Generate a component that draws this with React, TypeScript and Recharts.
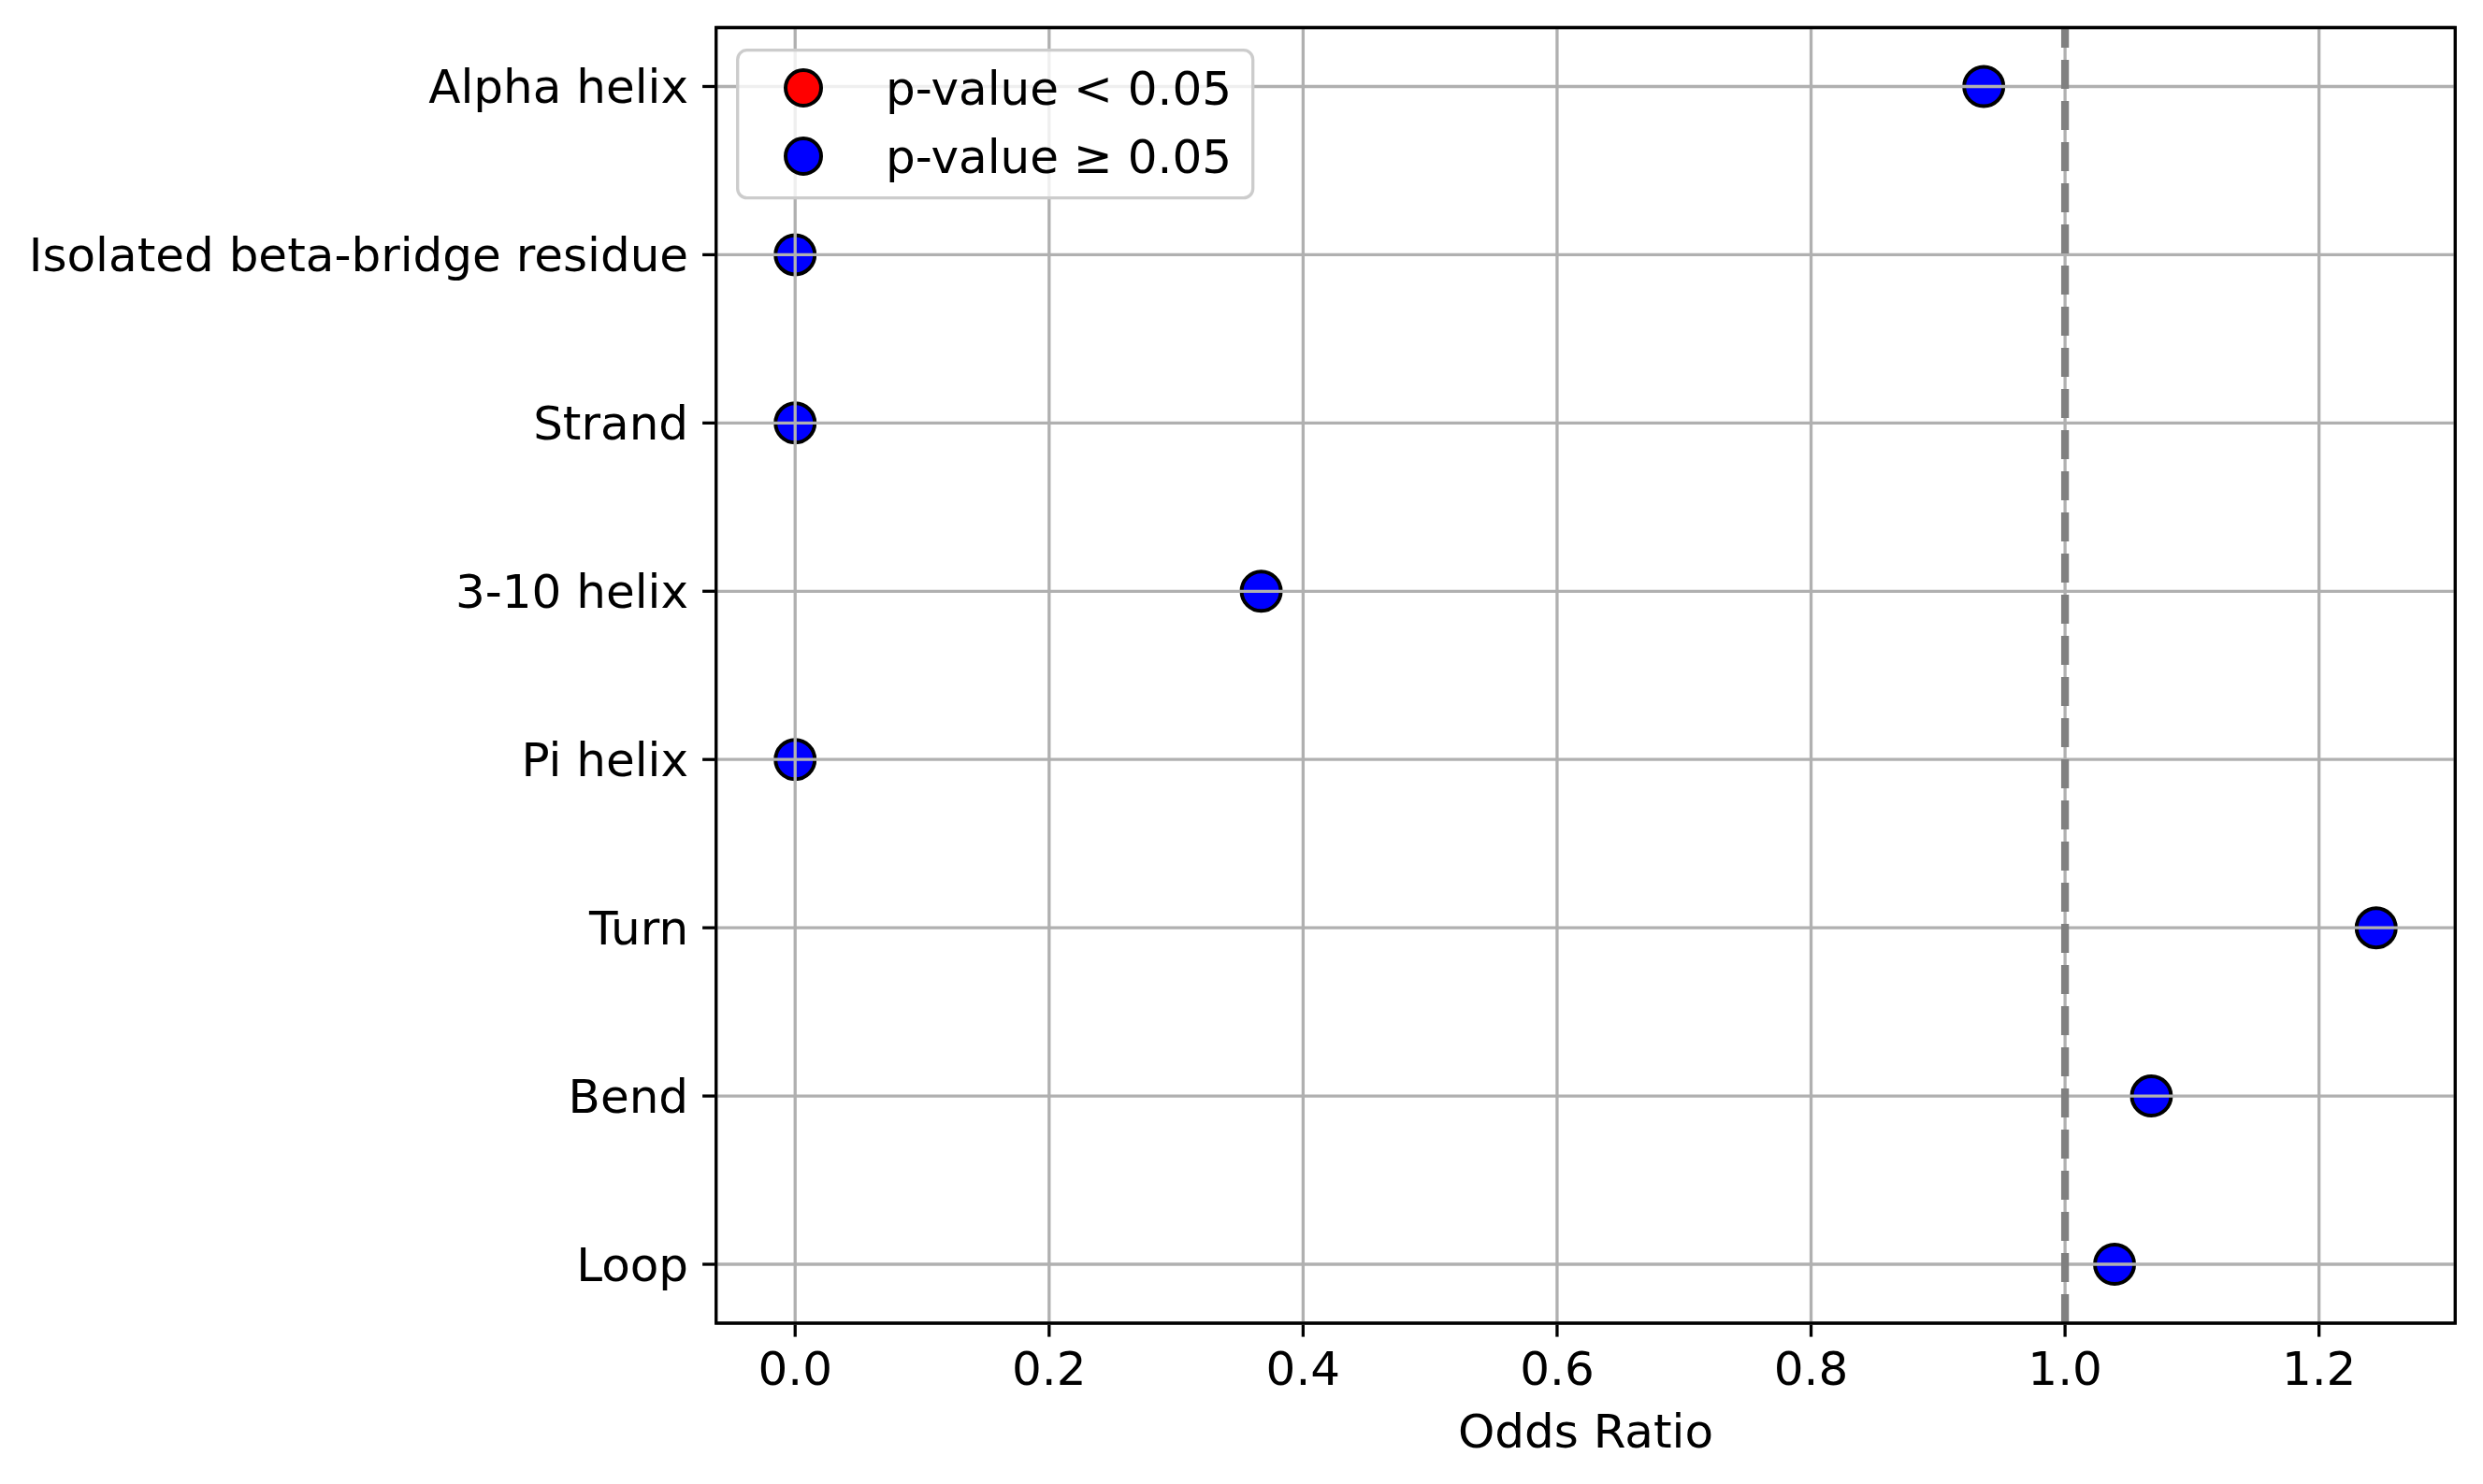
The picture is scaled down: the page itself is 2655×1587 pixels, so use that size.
import React from "react";
import {
  ScatterChart,
  Scatter,
  XAxis,
  YAxis,
  CartesianGrid,
  ReferenceLine,
  ReferenceArea,
  Legend,
} from "recharts";

// structure categories, top to bottom
const categories = [
  "Alpha helix",
  "Isolated beta-bridge residue",
  "Strand",
  "3-10 helix",
  "Pi helix",
  "Turn",
  "Bend",
  "Loop",
];
const oddsRatios = [0.936, 0, 0, 0.367, 0, 1.245, 1.068, 1.039];
const significant = [false, false, false, false, false, false, false, false];

const xTicks = [0, 0.2, 0.4, 0.6, 0.8, 1.0, 1.2];
const yTicks = categories.map((_, i) => i);
const legendLabels = ["p-value < 0.05", "p-value \u2265 0.05"];
const legendColors = ["#ff0000", "#0000ff"];

const FONT = "'DejaVu Sans', sans-serif";

const points = categories.map((name, i) => ({
  name,
  odds: oddsRatios[i],
  idx: i,
  sig: significant[i],
}));
const sigPoints = points.filter((p) => p.sig);
const nonSigPoints = points.filter((p) => !p.sig);

// matplotlib style 5% margins
const xMin = Math.min(...oddsRatios);
const xMax = Math.max(...oddsRatios);
const xPad = (xMax - xMin) * 0.05;
const xDomain: [number, number] = [xMin - xPad, xMax + xPad];
const yDomain: [number, number] = [-0.35, categories.length - 1 + 0.35];

const Dot = (color: string) => (props: any) => {
  const { cx, cy } = props;
  if (cx == null || cy == null) return <g />;
  return <circle cx={cx} cy={cy} r={21} fill={color} stroke="#000" strokeWidth={4} />;
};

const LegendBox = () => (
  <svg width={556} height={163} style={{ display: "block" }}>
    <rect
      x={1.7}
      y={1.7}
      width={551}
      height={158}
      rx={10}
      ry={10}
      fill="rgba(255,255,255,0.8)"
      stroke="#cccccc"
      strokeWidth={3.3}
    />
    {legendLabels.map((label, i) => (
      <g key={label}>
        <circle
          cx={72}
          cy={42 + i * 73}
          r={19}
          fill={legendColors[i]}
          stroke="#000"
          strokeWidth={4}
        />
        <text x={160} y={60 + i * 73} fontSize={50} fontFamily={FONT} fill="#000">
          {label}
        </text>
      </g>
    ))}
  </svg>
);

export default function App() {
  return (
    <div style={{ position: "absolute", left: 0, top: 0, background: "#fff" }}>
      <ScatterChart
        width={2655}
        height={1587}
        margin={{ top: 29.5, right: 29.7, bottom: 0, left: 0 }}
      >
        <XAxis
          type="number"
          dataKey="odds"
          domain={xDomain}
          allowDataOverflow
          ticks={xTicks}
          tickFormatter={(v: number) => v.toFixed(1)}
          height={172}
          axisLine={false}
          tickLine={{ stroke: "#000", strokeWidth: 3.3 }}
          tickSize={14.6}
          tickMargin={16}
          tick={{ fill: "#000", fontSize: 50, fontFamily: FONT }}
          interval={0}
          label={{
            value: "Odds Ratio",
            position: "insideBottom",
            offset: 39,
            fill: "#000",
            fontSize: 50,
            fontFamily: FONT,
          }}
        />
        <YAxis
          type="number"
          dataKey="idx"
          domain={yDomain}
          allowDataOverflow
          reversed
          ticks={yTicks}
          tickFormatter={(v: number) => categories[v] ?? ""}
          width={765.7}
          axisLine={false}
          tickLine={{ stroke: "#000", strokeWidth: 3.3 }}
          tickSize={14.6}
          tickMargin={15}
          tick={{ fill: "#000", fontSize: 50, fontFamily: FONT }}
          interval={0}
        />
        <Scatter
          name={legendLabels[0]}
          data={sigPoints}
          fill={legendColors[0]}
          shape={Dot(legendColors[0])}
          isAnimationActive={false}
        />
        <Scatter
          name={legendLabels[1]}
          data={nonSigPoints}
          fill={legendColors[1]}
          shape={Dot(legendColors[1])}
          isAnimationActive={false}
        />
        <CartesianGrid stroke="#b0b0b0" strokeWidth={3.3} zIndex={1000} />
        <ReferenceLine
          x={1}
          stroke="#808080"
          strokeWidth={8.3}
          strokeDasharray="31 13"
          zIndex={1050}
        />
        <ReferenceArea
          x1={xDomain[0]}
          x2={xDomain[1]}
          y1={yDomain[0]}
          y2={yDomain[1]}
          fill="none"
          fillOpacity={0}
          stroke="#000"
          strokeWidth={3.3}
          ifOverflow="visible"
          zIndex={1100}
        />
        <Legend
          layout="vertical"
          align="center"
          verticalAlign="middle"
          content={<LegendBox />}
          wrapperStyle={{ left: 787.3, top: 52.3, width: 556, height: 163 }}
        />
      </ScatterChart>
    </div>
  );
}
